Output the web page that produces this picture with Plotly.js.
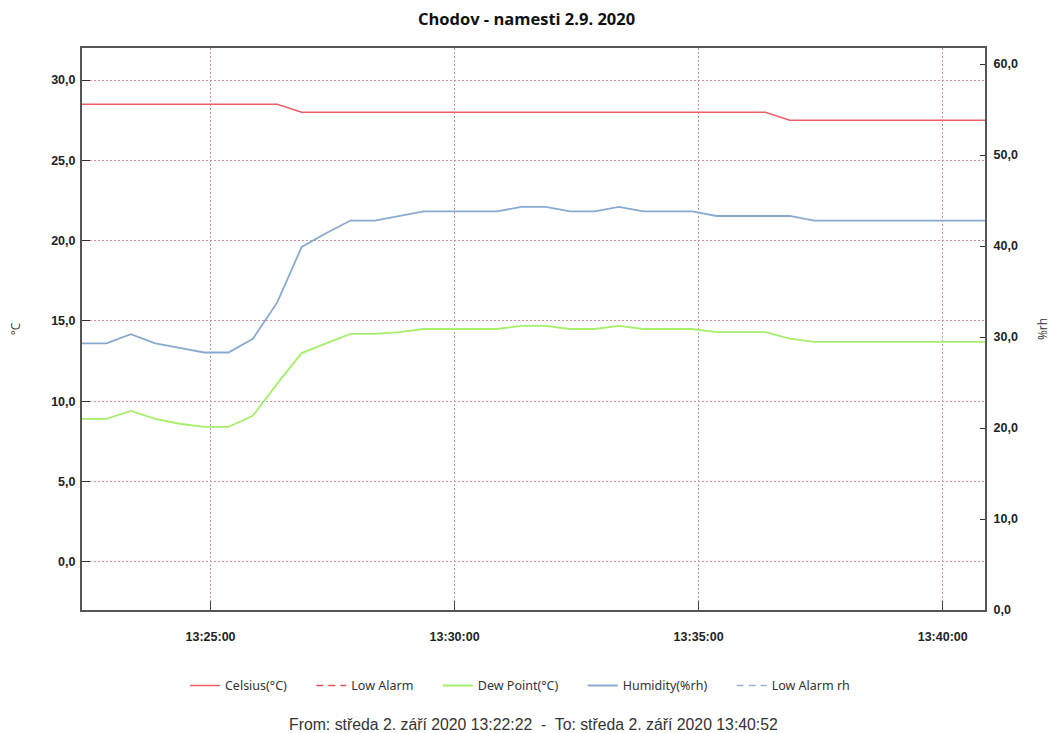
<!DOCTYPE html>
<html>
<head>
<meta charset="utf-8">
<script src="https://cdn.plot.ly/plotly-3.0.1.min.js"></script>
<style>html,body{margin:0;padding:0;background:#fff;}#chart{width:1051px;height:733px;}</style>
</head>
<body>
<div id="chart"></div>
<script>
const times = [
 "2020-09-02 13:22:22","2020-09-02 13:22:52","2020-09-02 13:23:22","2020-09-02 13:23:52",
 "2020-09-02 13:24:22","2020-09-02 13:24:52","2020-09-02 13:25:22","2020-09-02 13:25:52",
 "2020-09-02 13:26:22","2020-09-02 13:26:52","2020-09-02 13:27:22","2020-09-02 13:27:52",
 "2020-09-02 13:28:22","2020-09-02 13:28:52","2020-09-02 13:29:22","2020-09-02 13:29:52",
 "2020-09-02 13:30:22","2020-09-02 13:30:52","2020-09-02 13:31:22","2020-09-02 13:31:52",
 "2020-09-02 13:32:22","2020-09-02 13:32:52","2020-09-02 13:33:22","2020-09-02 13:33:52",
 "2020-09-02 13:34:22","2020-09-02 13:34:52","2020-09-02 13:35:22","2020-09-02 13:35:52",
 "2020-09-02 13:36:22","2020-09-02 13:36:52","2020-09-02 13:37:22","2020-09-02 13:37:52",
 "2020-09-02 13:38:22","2020-09-02 13:38:52","2020-09-02 13:39:22","2020-09-02 13:39:52",
 "2020-09-02 13:40:22","2020-09-02 13:40:52"
];
const celsius = [28.5,28.5,28.5,28.5,28.5,28.5,28.5,28.5,28.5,28.0,28.0,28.0,28.0,28.0,28.0,28.0,
 28.0,28.0,28.0,28.0,28.0,28.0,28.0,28.0,28.0,28.0,28.0,28.0,28.0,27.5,27.5,27.5,27.5,27.5,27.5,27.5,27.5,27.5];
const dewPoint = [8.9,8.9,9.4,8.9,8.6,8.4,8.4,9.1,11.1,13.0,13.6,14.2,14.2,14.3,14.5,14.5,
 14.5,14.5,14.7,14.7,14.5,14.5,14.7,14.5,14.5,14.5,14.3,14.3,14.3,13.9,13.7,13.7,13.7,13.7,13.7,13.7,13.7,13.7];
const humidity = [29.3,29.3,30.3,29.3,28.8,28.3,28.3,29.8,33.8,39.9,41.4,42.8,42.8,43.3,43.8,43.8,
 43.8,43.8,44.3,44.3,43.8,43.8,44.3,43.8,43.8,43.8,43.3,43.3,43.3,43.3,42.8,42.8,42.8,42.8,42.8,42.8,42.8,42.8];
const lowAlarm = times.map(() => null);
const lowAlarmRh = times.map(() => null);

const seriesNames = ["Celsius(°C)", "Low Alarm", "Dew Point(°C)", "Humidity(%rh)", "Low Alarm rh"];
const xTicks = ["2020-09-02 13:25:00","2020-09-02 13:30:00","2020-09-02 13:35:00","2020-09-02 13:40:00"];

const pad = "\u00a0\u00a0\u00a0\u00a0\u00a0\u00a0";
const tickFont = {family: "Liberation Sans, Arial", size: 12.5, color: "#222", weight: "bold"};
const gridDash = "2px,2px";
const gridColor = "#d98c95";

const traces = [
 {x: times, y: celsius, name: seriesNames[0] + pad, type: "scatter", mode: "lines", line: {color: "#ec5f66", width: 1.6}, yaxis: "y"},
 {x: times, y: lowAlarm, name: seriesNames[1] + pad, type: "scatter", mode: "lines", line: {color: "#ec4f56", width: 1.5, dash: "7px,5px"}, yaxis: "y"},
 {x: times, y: dewPoint, name: seriesNames[2] + pad, type: "scatter", mode: "lines", line: {color: "#a6ee6c", width: 1.8}, yaxis: "y"},
 {x: times, y: humidity, name: seriesNames[3] + pad, type: "scatter", mode: "lines", line: {color: "#88aad0", width: 1.8}, yaxis: "y2"},
 {x: times, y: lowAlarmRh, name: seriesNames[4], type: "scatter", mode: "lines", line: {color: "#92b4da", width: 1.5, dash: "7px,5px"}, yaxis: "y2"}
];

const layout = {
 width: 1051, height: 733,
 paper_bgcolor: "#fff", plot_bgcolor: "#fff",
 separators: ",.",
 margin: {l: 82, r: 66, t: 48, b: 123},
 showlegend: true,
 title: {text: "<b>Chodov - namesti 2.9. 2020</b>", font: {family: "Open Sans, Noto Sans, Arial", size: 16.5, color: "#111"},
   x: 0.501, xanchor: "center", xref: "container", y: 0.974, yanchor: "middle"},
 xaxis: {
   type: "date",
   range: ["2020-09-02 13:22:22", "2020-09-02 13:40:52"],
   tickvals: xTicks, tickformat: "%H:%M:%S",
   tickfont: tickFont,
   ticks: "inside", ticklen: 9, tickcolor: "#444",
   showline: true, linecolor: "#555", linewidth: 2, mirror: true,
   showgrid: true, gridcolor: gridColor, griddash: gridDash, gridwidth: 1,
   zeroline: false, ticklabelstandoff: 14
 },
 yaxis: {
   range: [-3, 32], dtick: 5, tick0: 0, tickformat: ".1f",
   tickfont: tickFont,
   ticks: "inside", ticklen: 8, tickcolor: "#333",
   showline: true, linecolor: "#555", linewidth: 2,
   showgrid: true, gridcolor: gridColor, griddash: gridDash, gridwidth: 1,
   zeroline: false, ticklabelstandoff: 2,
   title: {text: "°C", font: {family: "Open Sans, Arial", size: 12, color: "#333"}, standoff: 28}
 },
 yaxis2: {
   overlaying: "y", side: "right",
   range: [0, 61.76], dtick: 10, tick0: 0, tickformat: ".1f",
   tickfont: tickFont,
   ticks: "inside", ticklen: 5, tickcolor: "#333",
   showline: true, linecolor: "#555", linewidth: 2,
   showgrid: false, zeroline: false, ticklabelstandoff: 4,
   title: {text: "%rh", font: {family: "Open Sans, Arial", size: 12, color: "#333"}, standoff: 24}
 },
 legend: {orientation: "h", x: 0.485, xanchor: "center", y: -0.135, yanchor: "middle",
   font: {family: "Noto Sans, Open Sans, Arial", size: 12.5, color: "#333"}, itemwidth: 30, bgcolor: "rgba(0,0,0,0)"},
 annotations: [{
   text: "From: středa 2. září 2020 13:22:22  -  To: středa 2. září 2020 13:40:52",
   xref: "paper", yref: "paper", x: 0.5, y: -0.203, xanchor: "center", yanchor: "middle",
   showarrow: false, font: {family: "Liberation Sans, Arial", size: 15.8, color: "#333"}
 }]
};

Plotly.newPlot("chart", traces, layout, {displayModeBar: false, staticPlot: true});
</script>
</body>
</html>
